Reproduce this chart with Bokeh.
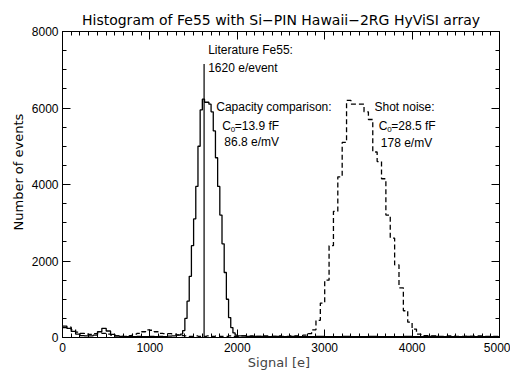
import numpy as np
from bokeh.plotting import figure
from bokeh.models import (Label, LinearAxis, SingleIntervalTicker, Range1d, Title,
                          CustomLabelingPolicy)
from bokeh.embed import file_html
from bokeh.resources import INLINE

# ---------------- data ----------------
# Solid histogram (capacity comparison), pieces with their own bin widths
solid_lo_start, solid_lo_width = 0, 50
solid_lo = [300, 240, 160, 90, 50, 40, 40, 60, 150, 240, 170, 80, 40, 30, 25,
            30, 20, 30, 25, 20, 30, 25, 30, 25, 35, 40, 60]
solid_pk_start, solid_pk_width = 1350, 25
solid_pk = [90, 180, 500, 950, 1600, 2400, 3100, 3950, 5000, 5950, 6230, 6150, 6150,
            6100, 5900, 5400, 4700, 3950, 3200, 2450, 1700, 1000, 520, 260, 120, 60]
solid_hi_start, solid_hi_width = 2000, 100
solid_hi = [40, 30, 30, 20, 30, 20, 30, 20, 20, 30, 20, 20, 30, 20, 20, 30, 20, 20,
            20, 30, 20, 20, 30, 20, 20, 20, 30, 20, 20, 20]

# Dashed histogram (shot noise)
dashed_lo_start, dashed_lo_width = 0, 50
dashed_lo = [260, 270, 200, 140, 110, 90, 80, 100, 120, 110, 90, 60, 40, 30, 30, 50,
             90, 110, 150, 200, 190, 150, 110, 100, 100, 90, 70, 50,
             40, 30, 40, 30, 30, 40, 30, 40, 30, 30, 40, 30, 30, 40, 30, 40, 30, 30,
             40, 30, 30, 40, 30, 30, 40, 40, 50, 60, 100]
dashed_pk_start, dashed_pk_width = 2850, 50
dashed_pk = [200, 450, 900, 1500, 2400, 3300, 4200, 5100, 6200, 6100, 6100, 6100, 5900,
             5700, 4850, 4600, 4150, 3200, 2600, 1900, 1300, 700, 400, 220, 90]
dashed_hi_start, dashed_hi_width = 4100, 100
dashed_hi = [50, 40, 30, 40, 30, 30, 40, 30, 30]

literature_value = 1620
literature_line_top = 7150

x_ticks_major = 1000
y_ticks_major = 2000


def build_steps(pieces):
    xs, ys = [], []
    end = 0
    for start, width, counts in pieces:
        for i, c in enumerate(counts):
            xs.append(start + i * width)
            ys.append(c)
        end = start + len(counts) * width
    xs.append(end)
    ys.append(ys[-1])
    return xs, ys


sx, sy = build_steps([(solid_lo_start, solid_lo_width, solid_lo),
                      (solid_pk_start, solid_pk_width, solid_pk),
                      (solid_hi_start, solid_hi_width, solid_hi)])
dx, dy = build_steps([(dashed_lo_start, dashed_lo_width, dashed_lo),
                      (dashed_pk_start, dashed_pk_width, dashed_pk),
                      (dashed_hi_start, dashed_hi_width, dashed_hi)])

# ---------------- figure ----------------
title_font = "DejaVu Sans"
tick_font = "Liberation Sans"
ann_font = "Liberation Sans"

p = figure(width=510, height=372, output_backend="svg", toolbar_location=None,
           x_range=Range1d(0, 5000), y_range=Range1d(0, 8000),
           min_border_left=62, min_border_top=31, min_border_right=11, min_border_bottom=32)
p.background_fill_color = "white"
p.border_fill_color = "white"
p.outline_line_color = "black"
p.outline_line_width = 1
p.xgrid.visible = False
p.ygrid.visible = False

p.title.text = "Histogram of Fe55 with Si\u2212PIN Hawaii\u22122RG HyViSI array"
p.title.text_font = title_font
p.title.text_font_size = "14px"
p.title.text_font_style = "normal"
p.title.align = "center"
p.title.standoff = 7
p.title.text_color = "black"


def style_axis(ax, show_labels):
    ax.axis_line_color = "black"
    ax.major_tick_in = 8
    ax.major_tick_out = 0
    ax.minor_tick_in = 4
    ax.minor_tick_out = 0
    ax.major_tick_line_color = "black"
    ax.minor_tick_line_color = "black"
    ax.major_label_text_font = tick_font
    ax.major_label_text_color = "black"
    if show_labels:
        ax.major_label_text_font_size = "12px"
    else:
        ax.major_label_text_font_size = "0px"
        ax.major_label_standoff = 0
        ax.major_label_policy = CustomLabelingPolicy(code="return []")


p.xaxis.ticker = SingleIntervalTicker(interval=x_ticks_major, num_minor_ticks=10)
p.yaxis.ticker = SingleIntervalTicker(interval=y_ticks_major, num_minor_ticks=4)
style_axis(p.xaxis[0], True)
style_axis(p.yaxis[0], True)
p.xaxis.major_label_standoff = 5
p.yaxis.major_label_standoff = 4

p.xaxis.axis_label = "Signal  [e]"
p.xaxis.axis_label_text_font = title_font
p.xaxis.axis_label_text_font_size = "13px"
p.xaxis.axis_label_text_font_style = "normal"
p.xaxis.axis_label_standoff = 0

p.add_layout(Title(text="Number  of  events", align="left", offset=107, standoff=6,
                   text_font=title_font, text_font_size="13px", text_font_style="normal",
                   text_color="black"), "left")

top_ax = LinearAxis(ticker=SingleIntervalTicker(interval=x_ticks_major, num_minor_ticks=10))
right_ax = LinearAxis(ticker=SingleIntervalTicker(interval=y_ticks_major, num_minor_ticks=4))
style_axis(top_ax, False)
style_axis(right_ax, False)
p.add_layout(top_ax, "above")
p.add_layout(right_ax, "right")

# histograms
p.step(sx, sy, mode="after", line_color="black", line_width=1.3)
p.step(dx, dy, mode="after", line_color="black", line_width=1.3, line_dash="5 3")
p.segment(x0=[literature_value], y0=[0], x1=[literature_value], y1=[literature_line_top],
          line_color="black", line_width=1.2)

# ---------------- annotations ----------------


def add_text(x, y, text, size="12px", xo=0, yo=0):
    p.add_layout(Label(x=x, y=y, text=text, text_font=ann_font, text_font_size=size,
                       text_color="black", text_align="left", text_baseline="middle",
                       x_offset=xo, y_offset=yo))


add_text(1667, 7508, "Literature Fe55:")
add_text(1667, 7034, "1620 e/event")
add_text(1759, 6014, "Capacity comparison:")
add_text(1828, 5522, "C")
add_text(1828, 5522, "0", size="8px", xo=8.5, yo=-3)
add_text(1828, 5522, "=13.9 fF", xo=12.5)
add_text(1851, 5118, "86.8 e/mV")
add_text(3570, 6014, "Shot noise:")
add_text(3619, 5522, "C")
add_text(3619, 5522, "0", size="8px", xo=8.5, yo=-3)
add_text(3619, 5522, "=28.5 fF", xo=12.5)
add_text(3642, 5074, "178 e/mV")

open("out.html", "w").write(file_html(p, INLINE))
